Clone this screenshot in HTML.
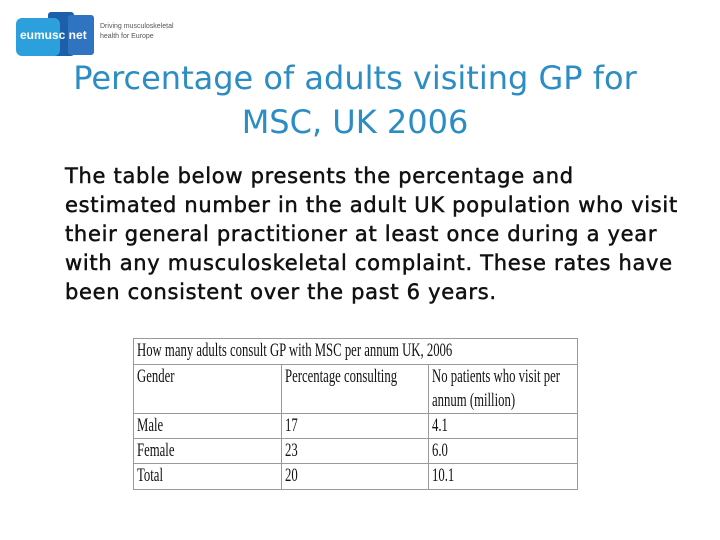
<!DOCTYPE html>
<html><head><meta charset="utf-8"><style>
body{margin:0;width:720px;height:540px;background:#fff;position:relative;overflow:hidden;font-family:"DejaVu Sans","Liberation Sans",sans-serif}
.a{position:absolute}
#title{left:0;width:710px;top:56px;text-align:center;color:#2b8dc4;font-size:32px;line-height:44px;white-space:nowrap}
#body{left:65px;top:162px;width:650px;font-size:21px;line-height:29px;color:#111;white-space:nowrap;letter-spacing:0.7px;-webkit-text-stroke:0.5px #111}
table{position:absolute;left:133px;top:338px;width:445px;border-collapse:collapse;font-family:"Liberation Serif",serif;font-size:19px;color:#111;table-layout:fixed}
td{border:1px solid #999;padding:0 3px;vertical-align:top;line-height:24px;white-space:nowrap;overflow:hidden}
td span{display:inline-block;transform:scaleX(0.67);transform-origin:left}
</style></head><body>
<div class="a" style="left:14px;top:10px;width:170px;height:50px">
 <div class="a" style="left:34px;top:2px;width:26px;height:44px;background:#1d5fa8;border-radius:3px"></div>
 <div class="a" style="left:54px;top:5px;width:26px;height:40px;background:#2f74c0;border-radius:3px"></div>
 <div class="a" style="left:2px;top:8px;width:44px;height:38px;background:#2ca0dc;border-radius:6px"></div>
 <div class="a" style="left:6px;top:18px;color:#fff;font-size:12px;font-weight:bold;font-family:'Liberation Sans',sans-serif">eumusc net</div>
 <div class="a" style="left:86px;top:12px;font-size:7px;color:#555;line-height:10px;font-family:'Liberation Sans',sans-serif">Driving musculoskeletal<br>health for Europe</div>
</div>
<div class="a" id="title">Percentage of adults visiting GP for<br>MSC, UK 2006</div>
<div class="a" id="body">The table below presents the percentage and<br>estimated number in the adult UK population who visit<br>their general practitioner at least once during a year<br>with any musculoskeletal complaint. These rates have<br>been consistent over the past 6 years.</div>
<table>
<colgroup><col style="width:148px"><col style="width:147px"><col></colgroup>
<tr style="height:26px"><td colspan="3"><span>How many adults consult GP with MSC per annum UK, 2006</span></td></tr>
<tr style="height:49px"><td><span>Gender</span></td><td><span>Percentage consulting</span></td><td><span>No patients who visit per<br>annum (million)</span></td></tr>
<tr style="height:25px"><td><span>Male</span></td><td><span>17</span></td><td><span>4.1</span></td></tr>
<tr style="height:25px"><td><span>Female</span></td><td><span>23</span></td><td><span>6.0</span></td></tr>
<tr style="height:26px"><td><span>Total</span></td><td><span>20</span></td><td><span>10.1</span></td></tr>
</table>
</body></html>
